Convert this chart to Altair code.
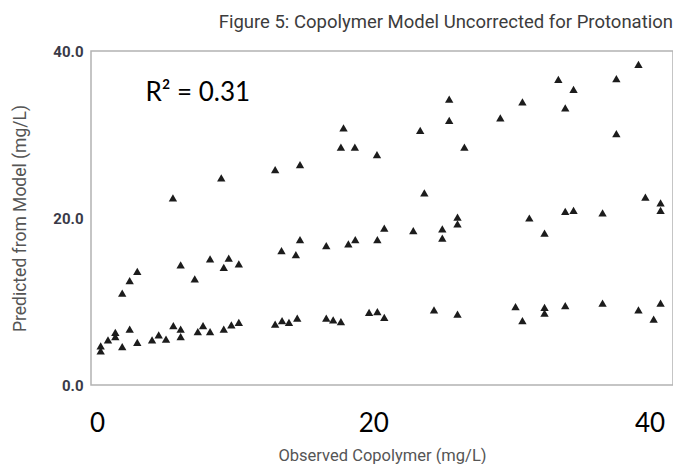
import altair as alt
import pandas as pd

# Observed copolymer (mg/L) and model prediction (mg/L)
observed = [
    # upper band
    5.5, 9.0, 12.9, 14.7, 17.85, 17.66, 18.67, 20.27, 23.4, 25.5, 25.5, 26.6, 23.7,
    29.2, 30.8, 33.4, 34.5, 33.9, 37.6, 39.2, 37.6,
    # middle band
    1.83, 2.37, 2.92, 6.06, 7.08, 8.19, 9.18, 9.54, 10.27, 13.36, 14.4, 14.7, 16.6,
    18.2, 18.7, 20.3, 20.8, 22.9, 25.0, 25.0, 26.1, 26.1, 31.3, 32.4, 33.9, 34.5,
    36.6, 39.7, 40.8, 40.8,
    # lower band
    0.27, 0.27, 0.8, 1.33, 1.33, 1.83, 2.37, 2.92, 3.99, 4.47, 5.0, 5.53, 6.06, 6.06,
    7.3, 7.68, 8.19, 9.18, 9.73, 10.27, 12.9, 13.4, 13.9, 14.5, 16.6, 17.1, 17.66,
    19.7, 20.3, 20.8, 24.4, 26.1, 30.3, 30.8, 32.4, 32.4, 33.9, 36.6, 39.2, 40.3, 40.8,
]
predicted = [
    # upper band
    22.4, 24.8, 25.8, 26.4, 30.8, 28.5, 28.5, 27.6, 30.5, 34.25, 31.7, 28.5, 23.0,
    32.0, 33.9, 36.6, 35.4, 33.2, 36.7, 38.4, 30.1,
    # middle band
    11.0, 12.5, 13.6, 14.4, 12.7, 15.1, 14.1, 15.2, 14.5, 16.1, 15.6, 17.4, 16.7,
    16.9, 17.4, 17.4, 18.8, 18.5, 18.7, 17.6, 20.1, 19.3, 20.0, 18.2, 20.8, 20.9,
    20.6, 22.5, 21.8, 20.9,
    # lower band
    4.1, 4.7, 5.4, 6.3, 5.8, 4.6, 6.7, 5.1, 5.4, 6.0, 5.5, 7.1, 6.7, 5.8,
    6.4, 7.1, 6.4, 6.7, 7.2, 7.5, 7.3, 7.7, 7.5, 8.0, 8.0, 7.8, 7.6,
    8.7, 8.8, 8.1, 9.0, 8.5, 9.4, 7.7, 9.3, 8.6, 9.5, 9.8, 9.0, 7.9, 9.8,
]
x_ticks = [0, 20, 40]
y_ticks = [0, 20, 40]
chart_title = "Figure 5: Copolymer Model Uncorrected for Protonation"
x_title = "Observed Copolymer (mg/L)"
y_title = "Predicted from Model (mg/L)"
r2_label = "R\u00b2 = 0.31"

df = pd.DataFrame({"observed": observed, "predicted": predicted})

xscale = alt.Scale(domain=[-0.43, 41.7], nice=False, zero=False)
yscale = alt.Scale(domain=[0, 40], nice=False, zero=False)

x_axis = alt.Axis(
    values=x_ticks, format="d", title=x_title, grid=False, domain=False, ticks=False,
    labelFont="Lato", labelFontSize=26, labelColor="#000000", labelPadding=25,
    labelFlush=False,
    titleFont="Roboto", titleFontSize=16.5, titleFontWeight="normal",
    titleColor="#555555", titleY=75, titleBaseline="alphabetic",
)
y_axis = alt.Axis(
    values=y_ticks, format=".1f", title=y_title, grid=False, domain=False, ticks=False,
    labelFont="Roboto", labelFontSize=15, labelFontWeight="bold",
    labelColor="#3a3a48", labelPadding=8,
    titleFont="Roboto", titleFontSize=17.5, titleFontWeight="normal",
    titleColor="#555555", titleX=-71, titleBaseline="middle",
)

points = alt.Chart(df).mark_point(
    shape="triangle-up", filled=True, color="#1c1c1c", size=70, opacity=1
).encode(
    x=alt.X("observed:Q", scale=xscale, axis=x_axis),
    y=alt.Y("predicted:Q", scale=yscale, axis=y_axis),
)

r2_text = alt.Chart(pd.DataFrame({"t": [r2_label]})).mark_text(
    font="Lato", fontSize=26, color="#000000", align="center", baseline="middle"
).encode(
    x=alt.datum(7.3),
    y=alt.datum(35.0),
    text="t:N",
)

chart = alt.layer(points, r2_text).properties(
    width=582,
    height=334,
    autosize=alt.AutoSizeParams(type="none"),
    padding={"left": 83, "top": 43, "right": 0, "bottom": 79},
    title=alt.TitleParams(
        chart_title, anchor="end", frame="group", font="Roboto",
        fontSize=18.5, fontWeight="normal", color="#3c3c3c", offset=13,
    ),
).configure_view(
    stroke="#b3b3b3", strokeWidth=1.5
)

chart.save("out.html", embed_options={"renderer": "svg", "actions": False})
